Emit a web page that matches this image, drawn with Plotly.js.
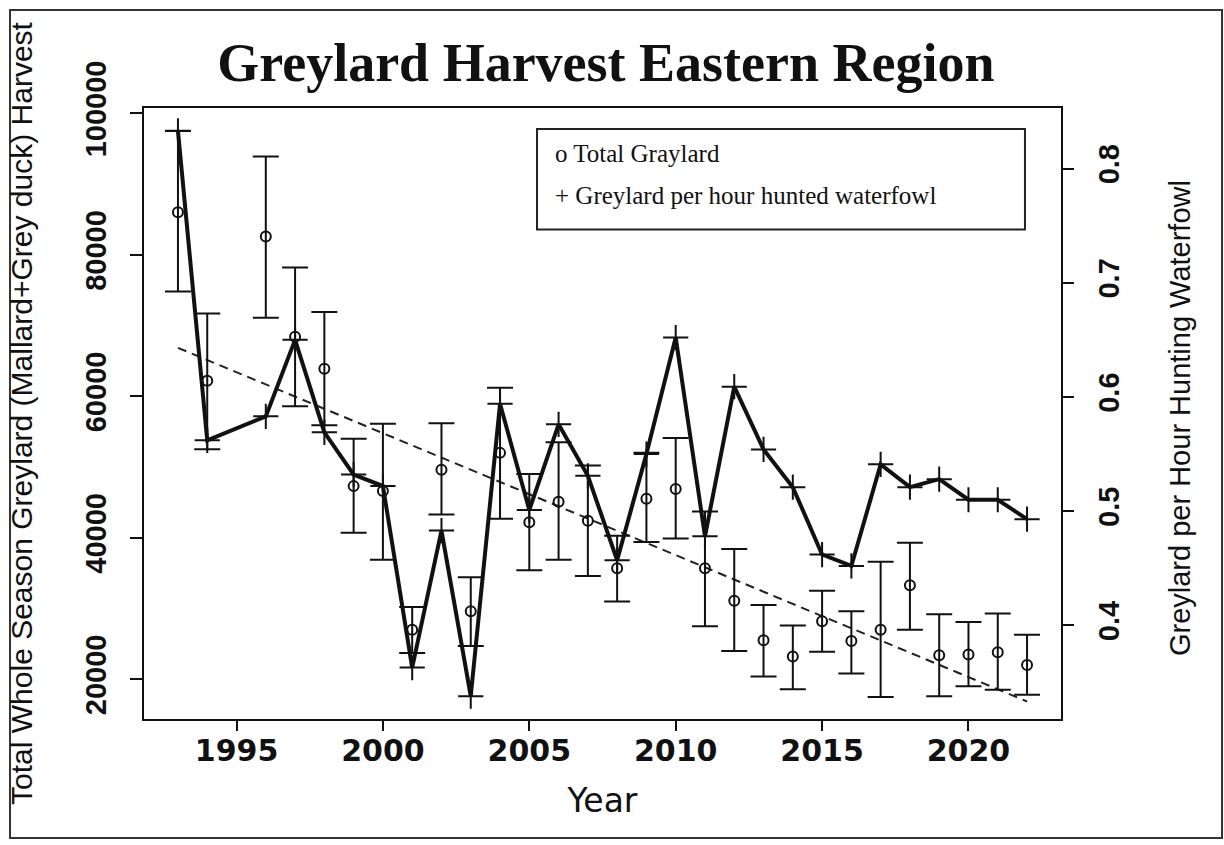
<!DOCTYPE html>
<html>
<head>
<meta charset="utf-8">
<script src="https://cdn.plot.ly/plotly-3.0.1.min.js"></script>
<style>html,body{margin:0;padding:0;background:#fff;}#chart{width:1224px;height:845px;}</style>
</head>
<body>
<div id="chart"></div>
<script>
// ---- data ----
const years = [1993,1994,1996,1997,1998,1999,2000,2001,2002,2003,2004,2005,2006,2007,2008,2009,2010,2011,2012,2013,2014,2015,2016,2017,2018,2019,2020,2021,2022];
const totalHarvest = [86000,62200,82600,68400,63900,47300,46600,27000,49600,29600,52000,42200,45100,42400,35700,45500,46900,35700,31100,25500,23200,28200,25400,27000,33300,23400,23500,23800,22000];
const totalLower = [74800,52500,71100,58600,55900,40700,36900,23700,43300,24700,42700,35400,36900,34600,31000,39400,39900,27500,24000,20400,18600,23900,20800,17500,27000,17600,19000,18500,17800];
const totalUpper = [97500,71700,93900,78200,71900,54000,56100,30200,56200,34400,61200,49000,53500,50200,40300,52000,54100,43700,38400,30500,27600,32500,29600,36600,39300,29200,28100,29300,26300];
const perHour = [0.833,0.562,0.583,0.650,0.569,0.532,0.522,0.363,0.483,0.338,0.594,0.501,0.576,0.531,0.457,0.550,0.652,0.478,0.609,0.554,0.521,0.462,0.452,0.541,0.521,0.528,0.510,0.510,0.493];
const trendYears = [1993, 2022];
const trendValues = [66850, 16860];
const xTicks = [1995, 2000, 2005, 2010, 2015, 2020];
const yTicks = [20000, 40000, 60000, 80000, 100000];
const y2Ticks = [0.4, 0.5, 0.6, 0.7, 0.8];
const legendLabels = ["o Total Graylard", "+ Greylard per hour hunted waterfowl"];

const errPlus = totalUpper.map((u, i) => u - totalHarvest[i]);
const errMinus = totalHarvest.map((t, i) => t - totalLower[i]);

const traces = [
  {
    x: trendYears, y: trendValues, type: 'scatter', mode: 'lines',
    line: {color: '#222', width: 2, dash: '9px,6px'},
    hoverinfo: 'skip', showlegend: false
  },
  {
    x: years, y: totalHarvest, type: 'scatter', mode: 'markers', name: 'Total Graylard',
    marker: {symbol: 'circle-open', size: 10, color: '#111', line: {width: 2, color: '#111'}},
    error_y: {type: 'data', symmetric: false, array: errPlus, arrayminus: errMinus,
              color: '#111', thickness: 2, width: 13},
    showlegend: false
  },
  {
    x: years, y: perHour, type: 'scatter', mode: 'lines+markers', yaxis: 'y2',
    name: 'Greylard per hour hunted waterfowl',
    line: {color: '#111', width: 4},
    marker: {symbol: 'cross-thin-open', size: 18, color: '#111', line: {width: 2, color: '#111'}},
    showlegend: false
  }
];

const tickFontBoldWide = {family: 'DejaVu Sans', size: 30, color: '#111', weight: 'bold'};
const tickFontBold = {family: 'Liberation Sans, Arial', size: 29, color: '#111', weight: 'bold'};

const layout = {
  width: 1224, height: 845,
  paper_bgcolor: '#fff', plot_bgcolor: '#fff',
  margin: {l: 144, r: 163, t: 108, b: 126, autoexpand: false},
  showlegend: false,
  title: {
    text: 'Greylard Harvest Eastern Region',
    font: {family: 'Liberation Serif, Times New Roman', size: 54, color: '#111', weight: 'bold'},
    x: 0.495, xanchor: 'center', y: 0.927, yanchor: 'middle'
  },
  xaxis: {
    range: [1991.84, 2023.16], tickvals: xTicks, ticktext: xTicks.map(String),
    ticks: 'outside', ticklen: 10, tickwidth: 2, tickcolor: '#111', ticklabelstandoff: -6,
    showline: true, linecolor: '#111', linewidth: 2, mirror: true,
    showgrid: false, zeroline: false, tickfont: tickFontBoldWide,
    title: {text: 'Year', font: {family: 'DejaVu Sans', size: 33, color: '#111'}, standoff: 22},
    automargin: false
  },
  yaxis: {
    range: [14380, 100750], tickvals: yTicks, ticktext: yTicks.map(String),
    ticks: 'outside', ticklen: 12, tickwidth: 2, tickcolor: '#111', tickangle: -90,
    ticklabelstandoff: 12,
    showline: true, linecolor: '#111', linewidth: 2, mirror: true,
    showgrid: false, zeroline: false, tickfont: tickFontBold,
    title: {text: 'Total Whole Season Greylard (Mallard+Grey duck) Harvest',
            font: {family: 'Liberation Sans, Arial', size: 30, color: '#111'}, standoff: 39},
    automargin: false
  },
  yaxis2: {
    overlaying: 'y', side: 'right', range: [0.318, 0.853],
    tickvals: y2Ticks, ticktext: y2Ticks.map(v => v.toFixed(1)),
    ticks: 'outside', ticklen: 12, tickwidth: 2, tickcolor: '#111', tickangle: -90,
    ticklabelstandoff: 10,
    showline: false, showgrid: false, zeroline: false, tickfont: tickFontBold,
    automargin: false
  },
  shapes: [
    {type: 'rect', xref: 'paper', yref: 'paper', x0: 0.4286, x1: 0.9607, y0: 0.8012, y1: 0.9656,
     line: {color: '#222', width: 2}, fillcolor: 'rgba(0,0,0,0)'},
    {type: 'rect', xref: 'paper', yref: 'paper', x0: -0.1461, x1: 1.1756, y0: -0.1948, y1: 1.1604,
     line: {color: '#333', width: 2}, fillcolor: 'rgba(0,0,0,0)'}
  ],
  annotations: [
    {text: legendLabels[0], xref: 'paper', yref: 'paper', x: 0.446, y: 0.9263,
     xanchor: 'left', yanchor: 'middle', showarrow: false,
     font: {family: 'Liberation Serif, Times New Roman', size: 25, color: '#111'}},
    {text: legendLabels[1], xref: 'paper', yref: 'paper', x: 0.446, y: 0.8560,
     xanchor: 'left', yanchor: 'middle', showarrow: false,
     font: {family: 'Liberation Serif, Times New Roman', size: 25, color: '#111'}},
    {text: 'Greylard per Hour Hunting Waterfowl', xref: 'paper', yref: 'paper', x: 1.1298, y: 0.4926,
     xanchor: 'center', yanchor: 'middle', textangle: -90, showarrow: false,
     font: {family: 'Liberation Sans, Arial', size: 29, color: '#111'}}
  ]
};

Plotly.newPlot('chart', traces, layout, {staticPlot: true, displayModeBar: false});
</script>
</body>
</html>
